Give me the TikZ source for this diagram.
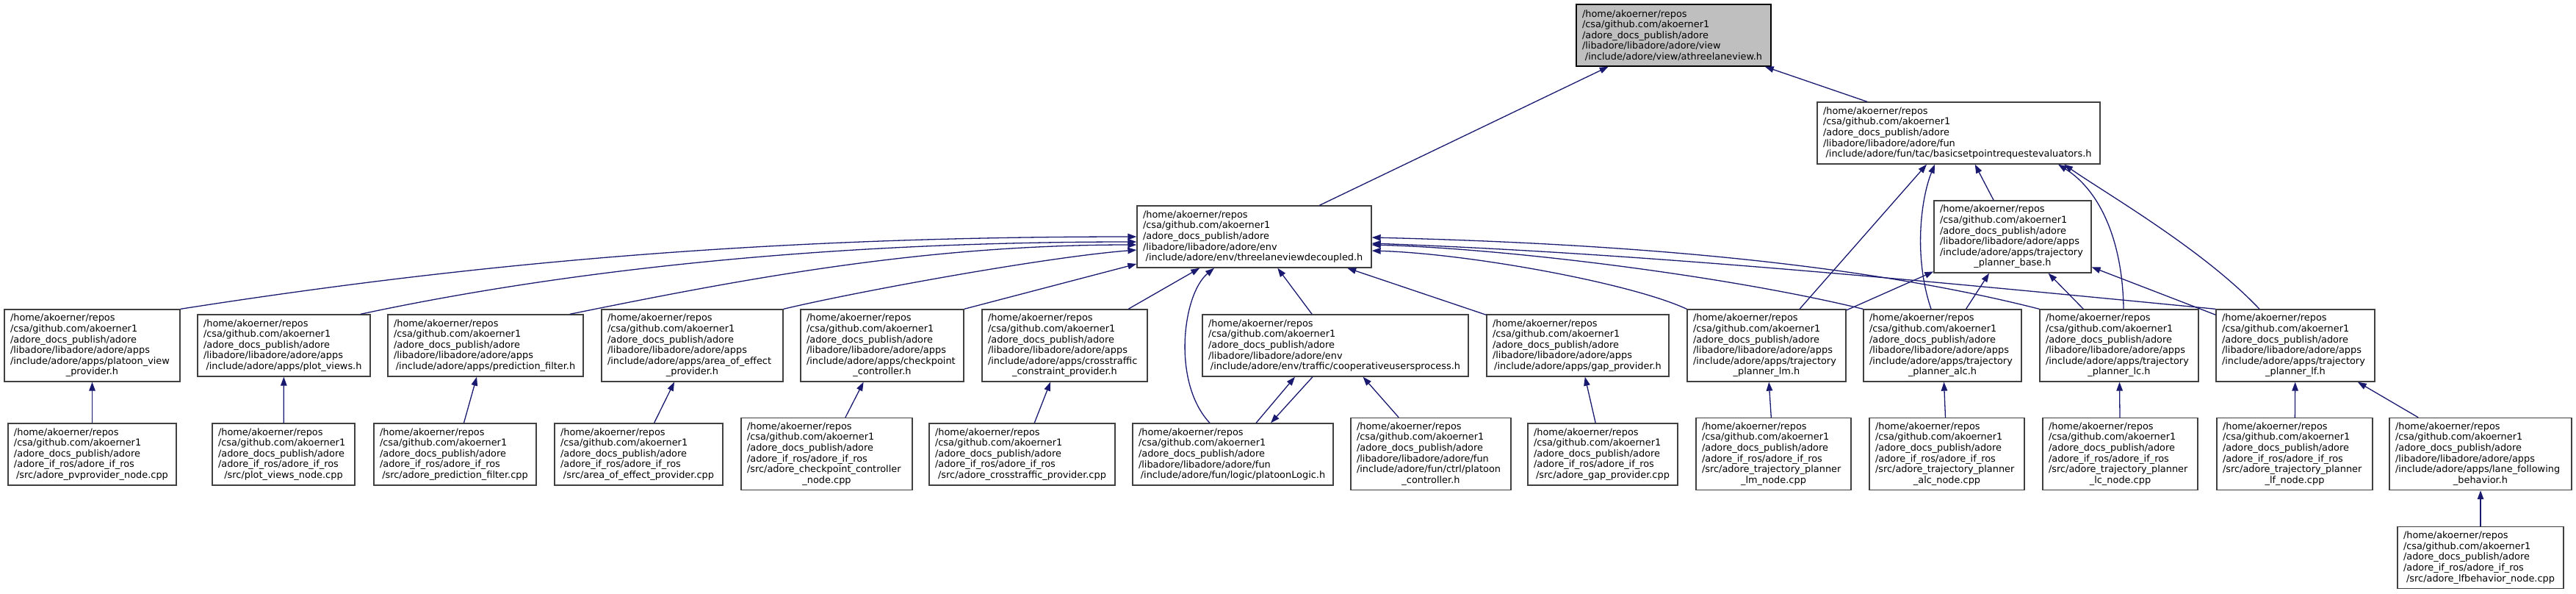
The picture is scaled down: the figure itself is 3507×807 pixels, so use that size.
\documentclass[tikz,border=0pt]{standalone}
\usepackage{fontspec}
\usetikzlibrary{arrows.meta}
\newfontfamily\doxyfont{DejaVu Sans}
\definecolor{depblue}{HTML}{191970}
\definecolor{rootgrey}{HTML}{BFBFBF}
\definecolor{boxgrey}{HTML}{404040}
\hyphenpenalty=10000
\exhyphenpenalty=10000
\newcommand{\doxpre}{/home/akoerner/repos\\/csa/github.com/akoerner1\\/adore\_docs\_publish/adore\\}
\newcommand{\doxlast}[1]{\hspace*{\fill}#1\hspace*{\fill}\null}

\begin{document}
\begin{tikzpicture}[x=1pt,y=-1pt,
      file/.style={draw=boxgrey,fill=white,line width=1.3pt,align=left,inner xsep=8pt,inner ysep=2pt,minimum height=84pt,
                   font=\doxyfont\fontsize{12.9}{14.6}\selectfont},
      file6/.style={file,minimum height=98pt},
      dep/.style={draw=depblue,line width=1.3pt,-{Triangle[length=12pt,width=8.5pt]}}]
    \useasboundingbox (0,0) rectangle (3507,807);
    % top
    \node[file,text width=249pt,fill=rootgrey,draw=black] (root) at (2278.5,48) {\doxpre/libadore/libadore/adore/view\\\doxlast{/include/adore/view/athreelaneview.h}};
    \node[file,text width=369pt] (B) at (2666.5,181) {\doxpre/libadore/libadore/adore/fun\\\doxlast{/include/adore/fun/tac/basicsetpointrequestevaluators.h}};
    \node[file,text width=303pt] (T) at (1707.5,322) {\doxpre/libadore/libadore/adore/env\\\doxlast{/include/adore/env/threelaneviewdecoupled.h}};
    \node[file6,text width=198pt] (TB) at (2740,322) {\doxpre/libadore/libadore/adore/apps\\/include/adore/apps/trajectory\\\doxlast{\_planner\_base.h}};
    % headers
    \node[file6,text width=223pt] (PV) at (125.5,470) {\doxpre/libadore/libadore/adore/apps\\/include/adore/apps/platoon\_view\\\doxlast{\_provider.h}};
    \node[file,text width=219pt] (PL) at (386.5,470) {\doxpre/libadore/libadore/adore/apps\\\doxlast{/include/adore/apps/plot\_views.h}};
    \node[file,text width=250pt] (PF) at (661,470) {\doxpre/libadore/libadore/adore/apps\\\doxlast{/include/adore/apps/prediction\_filter.h}};
    \node[file6,text width=231pt] (AE) at (942.5,470) {\doxpre/libadore/libadore/adore/apps\\/include/adore/apps/area\_of\_effect\\\doxlast{\_provider.h}};
    \node[file6,text width=206pt] (CP) at (1201,470) {\doxpre/libadore/libadore/adore/apps\\/include/adore/apps/checkpoint\\\doxlast{\_controller.h}};
    \node[file6,text width=209pt] (CT) at (1449.5,470) {\doxpre/libadore/libadore/adore/apps\\/include/adore/apps/crosstraffic\\\doxlast{\_constraint\_provider.h}};
    \node[file,text width=346pt] (CU) at (1818,470) {\doxpre/libadore/libadore/adore/env\\\doxlast{/include/adore/env/traffic/cooperativeusersprocess.h}};
    \node[file,text width=232pt] (GP) at (2148,470) {\doxpre/libadore/libadore/adore/apps\\\doxlast{/include/adore/apps/gap\_provider.h}};
    \node[file6,text width=200pt] (LM) at (2405,470) {\doxpre/libadore/libadore/adore/apps\\/include/adore/apps/trajectory\\\doxlast{\_planner\_lm.h}};
    \node[file6,text width=199pt] (ALC) at (2644.5,470) {\doxpre/libadore/libadore/adore/apps\\/include/adore/apps/trajectory\\\doxlast{\_planner\_alc.h}};
    \node[file6,text width=200pt] (LC) at (2885,470) {\doxpre/libadore/libadore/adore/apps\\/include/adore/apps/trajectory\\\doxlast{\_planner\_lc.h}};
    \node[file6,text width=200pt] (LF) at (3125,470) {\doxpre/libadore/libadore/adore/apps\\/include/adore/apps/trajectory\\\doxlast{\_planner\_lf.h}};
    % sources
    \node[file,text width=213pt] (N1) at (125.5,618) {\doxpre/adore\_if\_ros/adore\_if\_ros\\\doxlast{/src/adore\_pvprovider\_node.cpp}};
    \node[file,text width=178pt] (N2) at (386,618) {\doxpre/adore\_if\_ros/adore\_if\_ros\\\doxlast{/src/plot\_views\_node.cpp}};
    \node[file,text width=205pt] (N3) at (619.5,618) {\doxpre/adore\_if\_ros/adore\_if\_ros\\\doxlast{/src/adore\_prediction\_filter.cpp}};
    \node[file,text width=213pt] (N4) at (869.5,618) {\doxpre/adore\_if\_ros/adore\_if\_ros\\\doxlast{/src/area\_of\_effect\_provider.cpp}};
    \node[file6,text width=217pt] (N5) at (1125.5,617.5) {\doxpre/adore\_if\_ros/adore\_if\_ros\\/src/adore\_checkpoint\_controller\\\doxlast{\_node.cpp}};
    \node[file,text width=237pt] (N6) at (1391.5,618) {\doxpre/adore\_if\_ros/adore\_if\_ros\\\doxlast{/src/adore\_crosstraffic\_provider.cpp}};
    \node[file,text width=257pt] (PLg) at (1678.5,618) {\doxpre/libadore/libadore/adore/fun\\\doxlast{/include/adore/fun/logic/platoonLogic.h}};
    \node[file6,text width=202pt] (PC) at (1948,617.5) {\doxpre/libadore/libadore/adore/fun\\/include/adore/fun/ctrl/platoon\\\doxlast{\_controller.h}};
    \node[file,text width=188pt] (N7) at (2182,618) {\doxpre/adore\_if\_ros/adore\_if\_ros\\\doxlast{/src/adore\_gap\_provider.cpp}};
    \node[file6,text width=195pt] (N8) at (2414.5,617.5) {\doxpre/adore\_if\_ros/adore\_if\_ros\\/src/adore\_trajectory\_planner\\\doxlast{\_lm\_node.cpp}};
    \node[file6,text width=195pt] (N9) at (2650.5,617.5) {\doxpre/adore\_if\_ros/adore\_if\_ros\\/src/adore\_trajectory\_planner\\\doxlast{\_alc\_node.cpp}};
    \node[file6,text width=195pt] (N10) at (2886.5,617.5) {\doxpre/adore\_if\_ros/adore\_if\_ros\\/src/adore\_trajectory\_planner\\\doxlast{\_lc\_node.cpp}};
    \node[file6,text width=196pt] (N11) at (3124,617.5) {\doxpre/adore\_if\_ros/adore\_if\_ros\\/src/adore\_trajectory\_planner\\\doxlast{\_lf\_node.cpp}};
    \node[file6,text width=232pt] (LFB) at (3377,617.5) {\doxpre/libadore/libadore/adore/apps\\/include/adore/apps/lane\_following\\\doxlast{\_behavior.h}};
    \node[file,text width=210pt] (N12) at (3377,758.5) {\doxpre/adore\_if\_ros/adore\_if\_ros\\\doxlast{/src/adore\_lfbehavior\_node.cpp}};
    % includes
    \draw[dep] (T) -- (root);
    \draw[dep] (B) -- (root);
    \draw[dep] (TB) -- (B);
    \draw[dep] ([xshift=45pt]LM.north) -- ([xshift=-43.5pt]B.south);
    \draw[dep] ([xshift=-15.5pt]ALC.north) .. controls (2605,350) and (2615,270) .. ([xshift=-32.5pt]B.south);
    \draw[dep] ([xshift=6pt]LC.north) .. controls (2890,330) and (2860,260) .. ([xshift=135.5pt]B.south);
    \draw[dep] ([xshift=-49pt]LF.north) .. controls (3000,340) and (2870,265) .. ([xshift=143.5pt]B.south);
    \draw[dep] (LM) -- (TB);
    \draw[dep] (ALC) -- (TB);
    \draw[dep] (LC) -- (TB);
    \draw[dep] (LF) -- (TB);
    \draw[dep] (PV.north east) .. controls (600,365) and (1000,322) .. (T.west);
    \draw[dep] ([xshift=-14pt]PL.north east) .. controls (750,372) and (1100,329) .. ([yshift=-7pt]T.west);
    \draw[dep] ([xshift=-19pt]PF.north east) .. controls (1000,382) and (1250,333) .. ([yshift=-11pt]T.west);
    \draw[dep] (AE.north east) .. controls (1160,398) and (1420,350) .. ([yshift=-18pt]T.west);
    \draw[dep] (CP.north east) -- ([yshift=-37pt]T.west);
    \draw[dep] (CT) -- (T);
    \draw[dep] ([xshift=-31.5pt]PLg.north) .. controls (1595,520) and (1610,400) .. ([xshift=-54.5pt]T.south);
    \draw[dep] (CU) -- (T);
    \draw[dep] (GP) -- (T);
    \draw[dep] (LM.north west) .. controls (2220,385) and (2000,345) .. ([yshift=-19pt]T.east);
    \draw[dep] (ALC.north west) .. controls (2350,375) and (2050,338) .. ([yshift=-11pt]T.east);
    \draw[dep] (LC.north west) .. controls (2500,350) and (2150,330) .. ([yshift=-1pt]T.east);
    \draw[dep] (LF.north west) .. controls (2650,385) and (2250,345) .. ([yshift=-9pt]T.east);
    \draw[dep] ([xshift=31.5pt]PLg.north) -- ([xshift=-55pt]CU.south);
    \draw[dep] ([xshift=-31pt]CU.south) -- ([xshift=51.5pt]PLg.north);
    \draw[dep] (PC) -- (CU);
    \draw[dep] (N1) -- (PV);
    \draw[dep] (N2) -- (PL);
    \draw[dep] (N3) -- (PF);
    \draw[dep] (N4) -- (AE);
    \draw[dep] (N5) -- (CP);
    \draw[dep] (N6) -- (CT);
    \draw[dep] (N7) -- (GP);
    \draw[dep] (N8) -- (LM);
    \draw[dep] (N9) -- (ALC);
    \draw[dep] (N10) -- (LC);
    \draw[dep] (N11) -- (LF);
    \draw[dep] (LFB) -- (LF);
    \draw[dep] (N12) -- (LFB);
  \end{tikzpicture}
\end{document}
